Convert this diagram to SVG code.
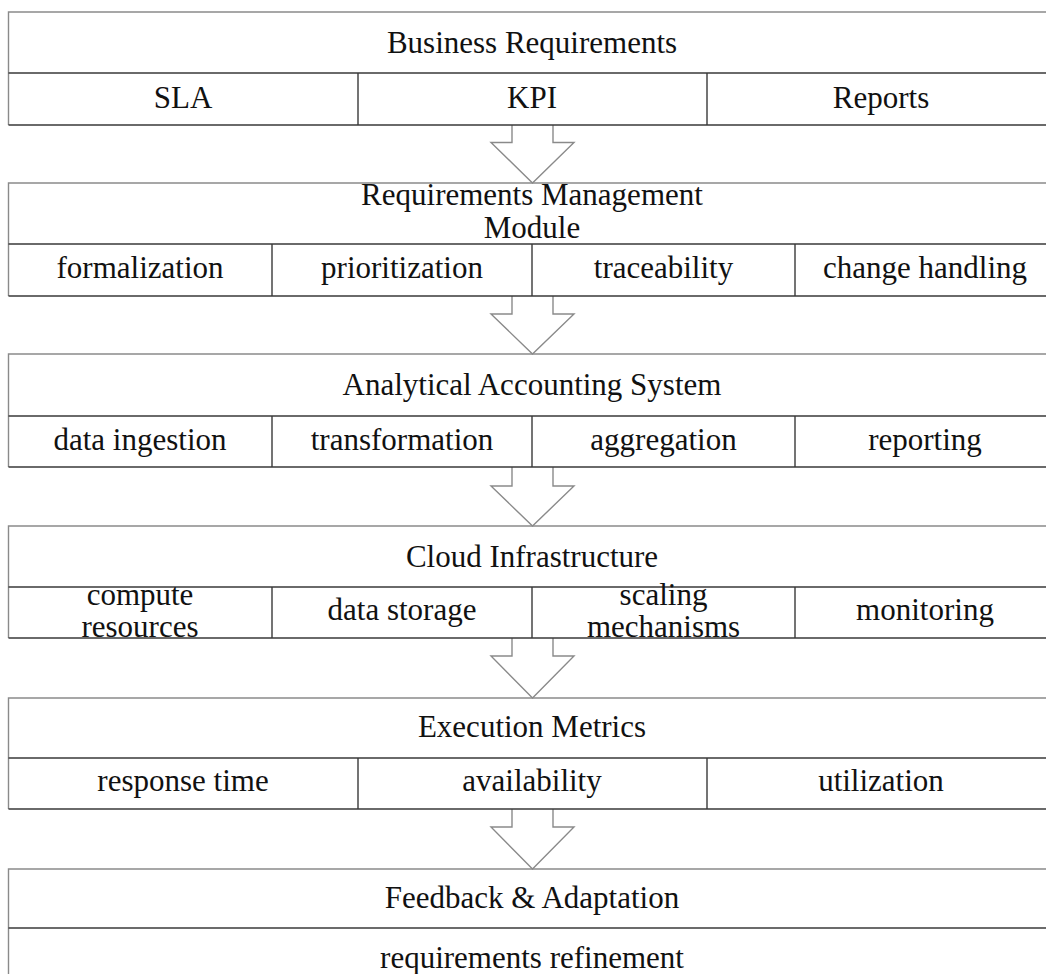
<svg xmlns="http://www.w3.org/2000/svg" width="1046" height="974" viewBox="0 0 1046 974">
<style>
.bg{fill:#ffffff}
.outer{fill:none;stroke:#8a8a8a;stroke-width:1.4}
.inner{fill:none;stroke:#3a3a3a;stroke-width:1.4}
.arrow{fill:#ffffff;stroke:#8a8a8a;stroke-width:1.4;stroke-linejoin:miter}
text{font-family:"Liberation Serif","Times New Roman",serif;font-size:31px;fill:#111;text-anchor:middle}
</style>
<rect class="bg" x="0" y="0" width="1046" height="974"/>
<g id="connectors">
<path class="arrow" d="M512,125 V142.5 H491 L532.5,183 L574,142.5 H553 V125"/>
<path class="arrow" d="M512,296 V314 H491 L532.5,354 L574,314 H553 V296"/>
<path class="arrow" d="M512,467 V486 H491 L532.5,526 L574,486 H553 V467"/>
<path class="arrow" d="M512,638 V656 H491 L532.5,698 L574,656 H553 V638"/>
<path class="arrow" d="M512,809 V827 H491 L532.5,869 L574,827 H553 V809"/>
</g>
<g id="business-requirements">
<path class="outer" d="M8.5,125 V12 H1060"/>
<path class="inner" d="M8.5,73 H1060 M8.5,125 H1060 M358,73 V125 M707,73 V125"/>
<text x="532" y="53">Business Requirements</text>
<text x="183" y="108">SLA</text>
<text x="532" y="108">KPI</text>
<text x="881" y="108">Reports</text>
</g>
<g id="requirements-management">
<path class="outer" d="M8.5,296 V183 H1060"/>
<path class="inner" d="M8.5,244 H1060 M8.5,296 H1060 M272,244 V296 M532,244 V296 M795,244 V296"/>
<text x="532" y="205">Requirements Management</text>
<text x="532" y="238">Module</text>
<text x="140" y="278">formalization</text>
<text x="402" y="278">prioritization</text>
<text x="663.5" y="278">traceability</text>
<text x="925" y="278">change handling</text>
</g>
<g id="analytical-accounting">
<path class="outer" d="M8.5,467 V354 H1060"/>
<path class="inner" d="M8.5,416 H1060 M8.5,467 H1060 M272,416 V467 M532,416 V467 M795,416 V467"/>
<text x="532" y="395">Analytical Accounting System</text>
<text x="140" y="450">data ingestion</text>
<text x="402" y="450">transformation</text>
<text x="663.5" y="450">aggregation</text>
<text x="925" y="450">reporting</text>
</g>
<g id="cloud-infrastructure">
<path class="outer" d="M8.5,638 V526 H1060"/>
<path class="inner" d="M8.5,587 H1060 M8.5,638 H1060 M272,587 V638 M532,587 V638 M795,587 V638"/>
<text x="532" y="567">Cloud Infrastructure</text>
<text x="140" y="605">compute</text>
<text x="140" y="637">resources</text>
<text x="402" y="620">data storage</text>
<text x="663.5" y="605">scaling</text>
<text x="663.5" y="637">mechanisms</text>
<text x="925" y="620">monitoring</text>
</g>
<g id="execution-metrics">
<path class="outer" d="M8.5,809 V698 H1060"/>
<path class="inner" d="M8.5,758 H1060 M8.5,809 H1060 M358,758 V809 M707,758 V809"/>
<text x="532" y="737">Execution Metrics</text>
<text x="183" y="791">response time</text>
<text x="532" y="791">availability</text>
<text x="881" y="791">utilization</text>
</g>
<g id="feedback-adaptation">
<path class="outer" d="M8.5,990 V869 H1060"/>
<path class="inner" d="M8.5,928 H1060"/>
<text x="532" y="908">Feedback &amp; Adaptation</text>
<text x="532" y="968">requirements refinement</text>
</g>
</svg>
